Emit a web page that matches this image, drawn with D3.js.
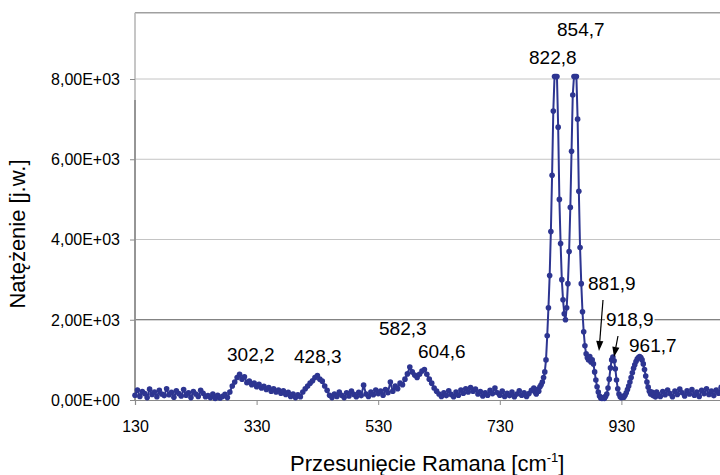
<!DOCTYPE html>
<html><head><meta charset="utf-8">
<script src="https://cdn.jsdelivr.net/npm/d3@7"></script>
<style>body{margin:0;background:#fff}svg{display:block}</style>
</head><body><svg id="c" width="720" height="475"></svg>
<script>
// ---- data ----
const xTicks = [130, 330, 530, 730, 930, 1130];
const xTickLabels = ["130", "330", "530", "730", "930", ""];
const yTicks = [0, 2000, 4000, 6000, 8000];
const yTickLabels = ["0,00E+00", "2,00E+03", "4,00E+03", "6,00E+03", "8,00E+03"];
const yMax = 9650;

// intensity segments (start shift, step, values)
const int130 = [120,250,90,210,160,60,270,140,200,80,240,
  150,110,280,130,190,70,230,160,100,260,
  120,180,60,210,150,90,240,170,80,110,
  60,150,40,120,50,90,140,60,200,350];
const int294 = [450,560,640,520,580,430,470,380,420,330,390,300,340,260,310,220,280,200,250,170,230,140,190,90,150];
const int394 = [60,130,80,200,280,350,420,480,560,610,520,470,350,240,120,60,150];
const int462 = [90,200,120,60,180,100,220,140,80,190,110,370,150,90,200,130,250,160,220,120];
const int542 = [260,180,450,220,350,280,420,380,520,650,820,700,620,560,640,720,760,640,520,420,300,220,150];
const int634 = [90,180,110,230,140,80,200,120,250,170,
  280,200,310,220,270,150,210,100,180,120,
  240,160,300,180,120,220,90,170,110,200,
  80,150,230,120,180,90,160,240,300];
const int788 = [200,150,260,220,330,380,450,560,700,1000,
  1600,2300,3100,4200,5600,7200,8060,8060,8060,6800,
  5000,3900,3000,2500,2150,2000,2300,2900,3700,4800,
  6200,7600,8060,8060,8060,7000,5200,3800,2900,2200,
  1700,1350,1150,1050,1000,1080,950,1000,900,700,
  500,330,200,100,50,40,60,40,90,150,
  300,520,800,1000,1070,980,780,500,280,150,
  80,60,90,70,120,180,260,350,450,560,
  680,790,880,960,1020,1060,1080,1060,1000,900,
  760,600,450,320,220,150,200,110,170,80,
  200,140];
const int994 = [90,210,130,250,160,80,220,140,270,180,100,230,150,260,120,200,90,240,160,280,140,220,110,250,170,320,150,230,100,200,130,260,90,180,140];

const segments = [
  {start:130, step:4, values:int130},
  {start:294, step:4, values:int294},
  {start:394, step:4, values:int394},
  {start:462, step:4, values:int462},
  {start:542, step:4, values:int542},
  {start:634, step:4, values:int634},
  {start:788, step:2, values:int788},
  {start:994, step:4, values:int994}
];

const labels = [
  {t:"302,2", x:227, y:361},
  {t:"428,3", x:294, y:363},
  {t:"582,3", x:379, y:335},
  {t:"604,6", x:418, y:358},
  {t:"822,8", x:529, y:64},
  {t:"854,7", x:557, y:36},
  {t:"881,9", x:588, y:290},
  {t:"918,9", x:606, y:326, bg:true},
  {t:"961,7", x:629, y:352}
];
const arrows = [
  {x1:603, y1:300, x2:599, y2:351},
  {x1:618, y1:336, x2:614, y2:357}
];

// ---- build points ----
const pts = [];
segments.forEach(s => s.values.forEach((v,i) => pts.push([s.start + i*s.step, v])));

const svg = d3.select("#c");
svg.append("rect").attr("width",720).attr("height",475).attr("fill","#fff");
const font = "'Liberation Sans', Arial, sans-serif";

const x = d3.scaleLinear().domain([130,1130]).range([135,743]);
const y = d3.scaleLinear().domain([0,yMax]).range([400,12.8]);

// gridlines
yTicks.filter(d=>d>0).forEach(d=>{
  svg.append("line").attr("x1",135).attr("x2",760).attr("y1",y(d)).attr("y2",y(d))
    .attr("stroke", d===2000 ? "#5a5a5a" : "#c4c4c4").attr("stroke-width",1);
});
// top border
svg.append("line").attr("x1",135).attr("x2",760).attr("y1",y(yMax)).attr("y2",y(yMax))
  .attr("stroke","#a0a0a0").attr("stroke-width",1.6);
// left axis
svg.append("line").attr("x1",135).attr("x2",135).attr("y1",y(yMax)).attr("y2",400.5)
  .attr("stroke","#b8b8b8").attr("stroke-width",1.6);
svg.append("line").attr("x1",135).attr("x2",135).attr("y1",100).attr("y2",400.5)
  .attr("stroke","#8a8a8a").attr("stroke-width",1.6);
// y ticks
const ya = d3.axisLeft(y).tickValues(yTicks).tickSize(5).tickFormat((d,i)=>yTickLabels[i]);
const yg = svg.append("g").attr("transform","translate(135,0)").call(ya);
yg.select(".domain").remove();
yg.selectAll("line").attr("stroke","#8a8a8a");
yg.selectAll("text").attr("font-family",font).attr("font-size",16).attr("fill","#000")
  .attr("x",-15).attr("dy","0.34em");
// x axis
const xa = d3.axisBottom(x).tickValues(xTicks).tickSize(5).tickFormat((d,i)=>xTickLabels[i]);
const xg = svg.append("g").attr("transform","translate(0,400)").call(xa);
xg.select(".domain").attr("stroke","#8a8a8a").attr("stroke-width",1.2);
xg.selectAll("line").attr("stroke","#8a8a8a");
xg.selectAll("text").attr("font-family",font).attr("font-size",16).attr("fill","#000")
  .attr("y",18).attr("dy","0.9em");

// data
const col = "#2d3591";
svg.append("path").datum(pts)
  .attr("d", d3.line().x(d=>x(d[0])).y(d=>y(d[1])))
  .attr("fill","none").attr("stroke",col).attr("stroke-width",2);
svg.append("g").selectAll("circle").data(pts).join("circle")
  .attr("cx",d=>x(d[0])).attr("cy",d=>y(d[1])).attr("r",2.8).attr("fill",col);

// labels
labels.forEach(l=>{
  const t = svg.append("text").attr("x",l.x).attr("y",l.y).text(l.t)
    .attr("font-family",font).attr("font-size",19).attr("fill","#000");
  if (l.bg) {
    const b = t.node().getBBox();
    svg.insert("rect", () => t.node()).attr("x",b.x-1).attr("y",b.y).attr("width",b.width+2).attr("height",b.height).attr("fill","#fff");
  }
});
// arrows
arrows.forEach(a=>{
  const ang = Math.atan2(a.y2-a.y1, a.x2-a.x1);
  const L = 10, W = 3.6;
  const bx = a.x2 - L*Math.cos(ang), by = a.y2 - L*Math.sin(ang);
  svg.append("line").attr("x1",a.x1).attr("y1",a.y1).attr("x2",bx).attr("y2",by)
    .attr("stroke","#000").attr("stroke-width",1.2);
  const px = -Math.sin(ang)*W, py = Math.cos(ang)*W;
  svg.append("path").attr("d",`M${a.x2},${a.y2}L${bx+px},${by+py}L${bx-px},${by-py}Z`).attr("fill","#000");
});

// axis titles
const xt = svg.append("text").attr("x",290).attr("y",471).attr("font-family",font)
  .attr("font-size",22).attr("fill","#000");
xt.append("tspan").text("Przesunięcie Ramana [cm");
xt.append("tspan").attr("font-size",13).attr("dy",-9).text("-1");
xt.append("tspan").attr("dy",9).text("]");
svg.append("text").attr("transform","translate(25,234) rotate(-90)").attr("text-anchor","middle")
  .attr("font-family",font).attr("font-size",22).attr("fill","#000").text("Natężenie [j.w.]");
</script></body></html>
